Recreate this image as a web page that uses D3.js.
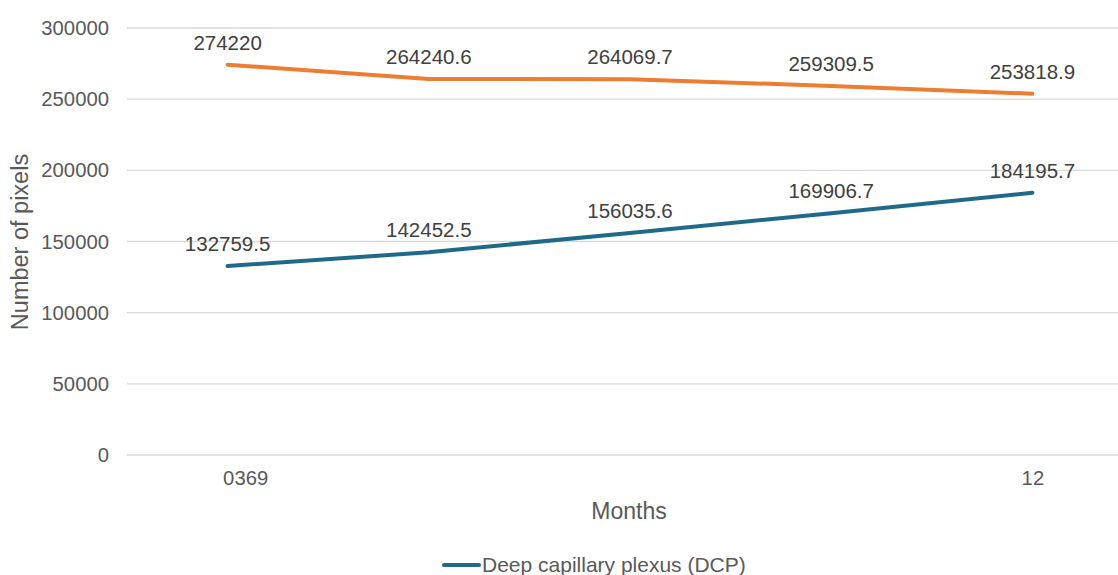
<!DOCTYPE html>
<html>
<head>
<meta charset="utf-8">
<script src="https://cdn.jsdelivr.net/npm/d3@7"></script>
<style>
  html, body { margin: 0; padding: 0; background: #fff; }
  svg { display: block; font-family: "Liberation Sans", Arial, sans-serif; }
</style>
</head>
<body>
<svg id="chart" width="1118" height="575"></svg>
<script>
// ---- data ----
const categories = ["0", "3", "6", "9", "12"];
const tickLabels = ["0369", "", "", "", "12"];
const scpValues = [274220, 264240.6, 264069.7, 259309.5, 253818.9];
const dcpValues = [132759.5, 142452.5, 156035.6, 169906.7, 184195.7];
const yTicks = [0, 50000, 100000, 150000, 200000, 250000, 300000];
const legendLabel = "Deep capillary plexus (DCP)";
const xTitle = "Months";
const yTitle = "Number of pixels";

// ---- layout ----
const svg = d3.select("#chart");
const plotLeft = 127, plotRight = 1133, plotTop = 28, plotBottom = 455;

const x = d3.scalePoint().domain(categories).range([plotLeft, plotRight]).padding(0.5);
const y = d3.scaleLinear().domain([0, 300000]).range([plotBottom, plotTop]);

// gridlines
svg.append("g").selectAll("line").data(yTicks).join("line")
  .attr("x1", plotLeft).attr("x2", 1118)
  .attr("y1", d => y(d)).attr("y2", d => y(d))
  .attr("stroke", "#d9d9d9").attr("stroke-width", 1.3);

// y axis labels
const yAxis = svg.append("g").attr("transform", `translate(${plotLeft},0)`)
  .call(d3.axisLeft(y).tickValues(yTicks).tickSize(0).tickPadding(18).tickFormat(d3.format("d")));
yAxis.select(".domain").remove();
yAxis.selectAll("text").attr("font-size", 20.3).attr("fill", "#595959")
  .attr("font-family", "Liberation Sans, Arial, sans-serif");

// x axis labels
const xAxis = svg.append("g").attr("transform", `translate(0,${plotBottom})`)
  .call(d3.axisBottom(x).tickSize(0).tickPadding(16).tickFormat((d, i) => tickLabels[i]));
xAxis.select(".domain").remove();
xAxis.selectAll("text").attr("font-size", 20.3).attr("fill", "#595959")
  .attr("font-family", "Liberation Sans, Arial, sans-serif")
  .attr("text-anchor", (d, i) => i === 0 ? "start" : "middle")
  .attr("dx", (d, i) => i === 0 ? -5 : 0);

// lines
const line = d3.line().x((d, i) => x(categories[i])).y(d => y(d));
svg.append("path").datum(scpValues).attr("d", line)
  .attr("fill", "none").attr("stroke", "#ED7D31").attr("stroke-width", 4)
  .attr("stroke-linecap", "round").attr("stroke-linejoin", "round");
svg.append("path").datum(dcpValues).attr("d", line)
  .attr("fill", "none").attr("stroke", "#1F6A8A").attr("stroke-width", 4)
  .attr("stroke-linecap", "round").attr("stroke-linejoin", "round");

// data labels
function labels(vals) {
  svg.append("g").selectAll("text").data(vals).join("text")
    .attr("x", (d, i) => x(categories[i]))
    .attr("y", d => y(d) - 15)
    .attr("text-anchor", "middle")
    .attr("font-size", 20.5).attr("fill", "#404040")
    .text(d => String(d));
}
labels(scpValues);
labels(dcpValues);

// axis titles
svg.append("text").attr("x", 629).attr("y", 519).attr("text-anchor", "middle")
  .attr("font-size", 23).attr("fill", "#595959").text(xTitle);
svg.append("text").attr("transform", "translate(28,242) rotate(-90)")
  .attr("text-anchor", "middle").attr("font-size", 23.5).attr("fill", "#595959").text(yTitle);

// legend
svg.append("line").attr("x1", 444).attr("x2", 479).attr("y1", 565).attr("y2", 565)
  .attr("stroke", "#1F6A8A").attr("stroke-width", 4).attr("stroke-linecap", "round");
svg.append("text").attr("x", 482).attr("y", 572).attr("font-size", 21)
  .attr("fill", "#595959").text(legendLabel);
</script>
</body>
</html>
